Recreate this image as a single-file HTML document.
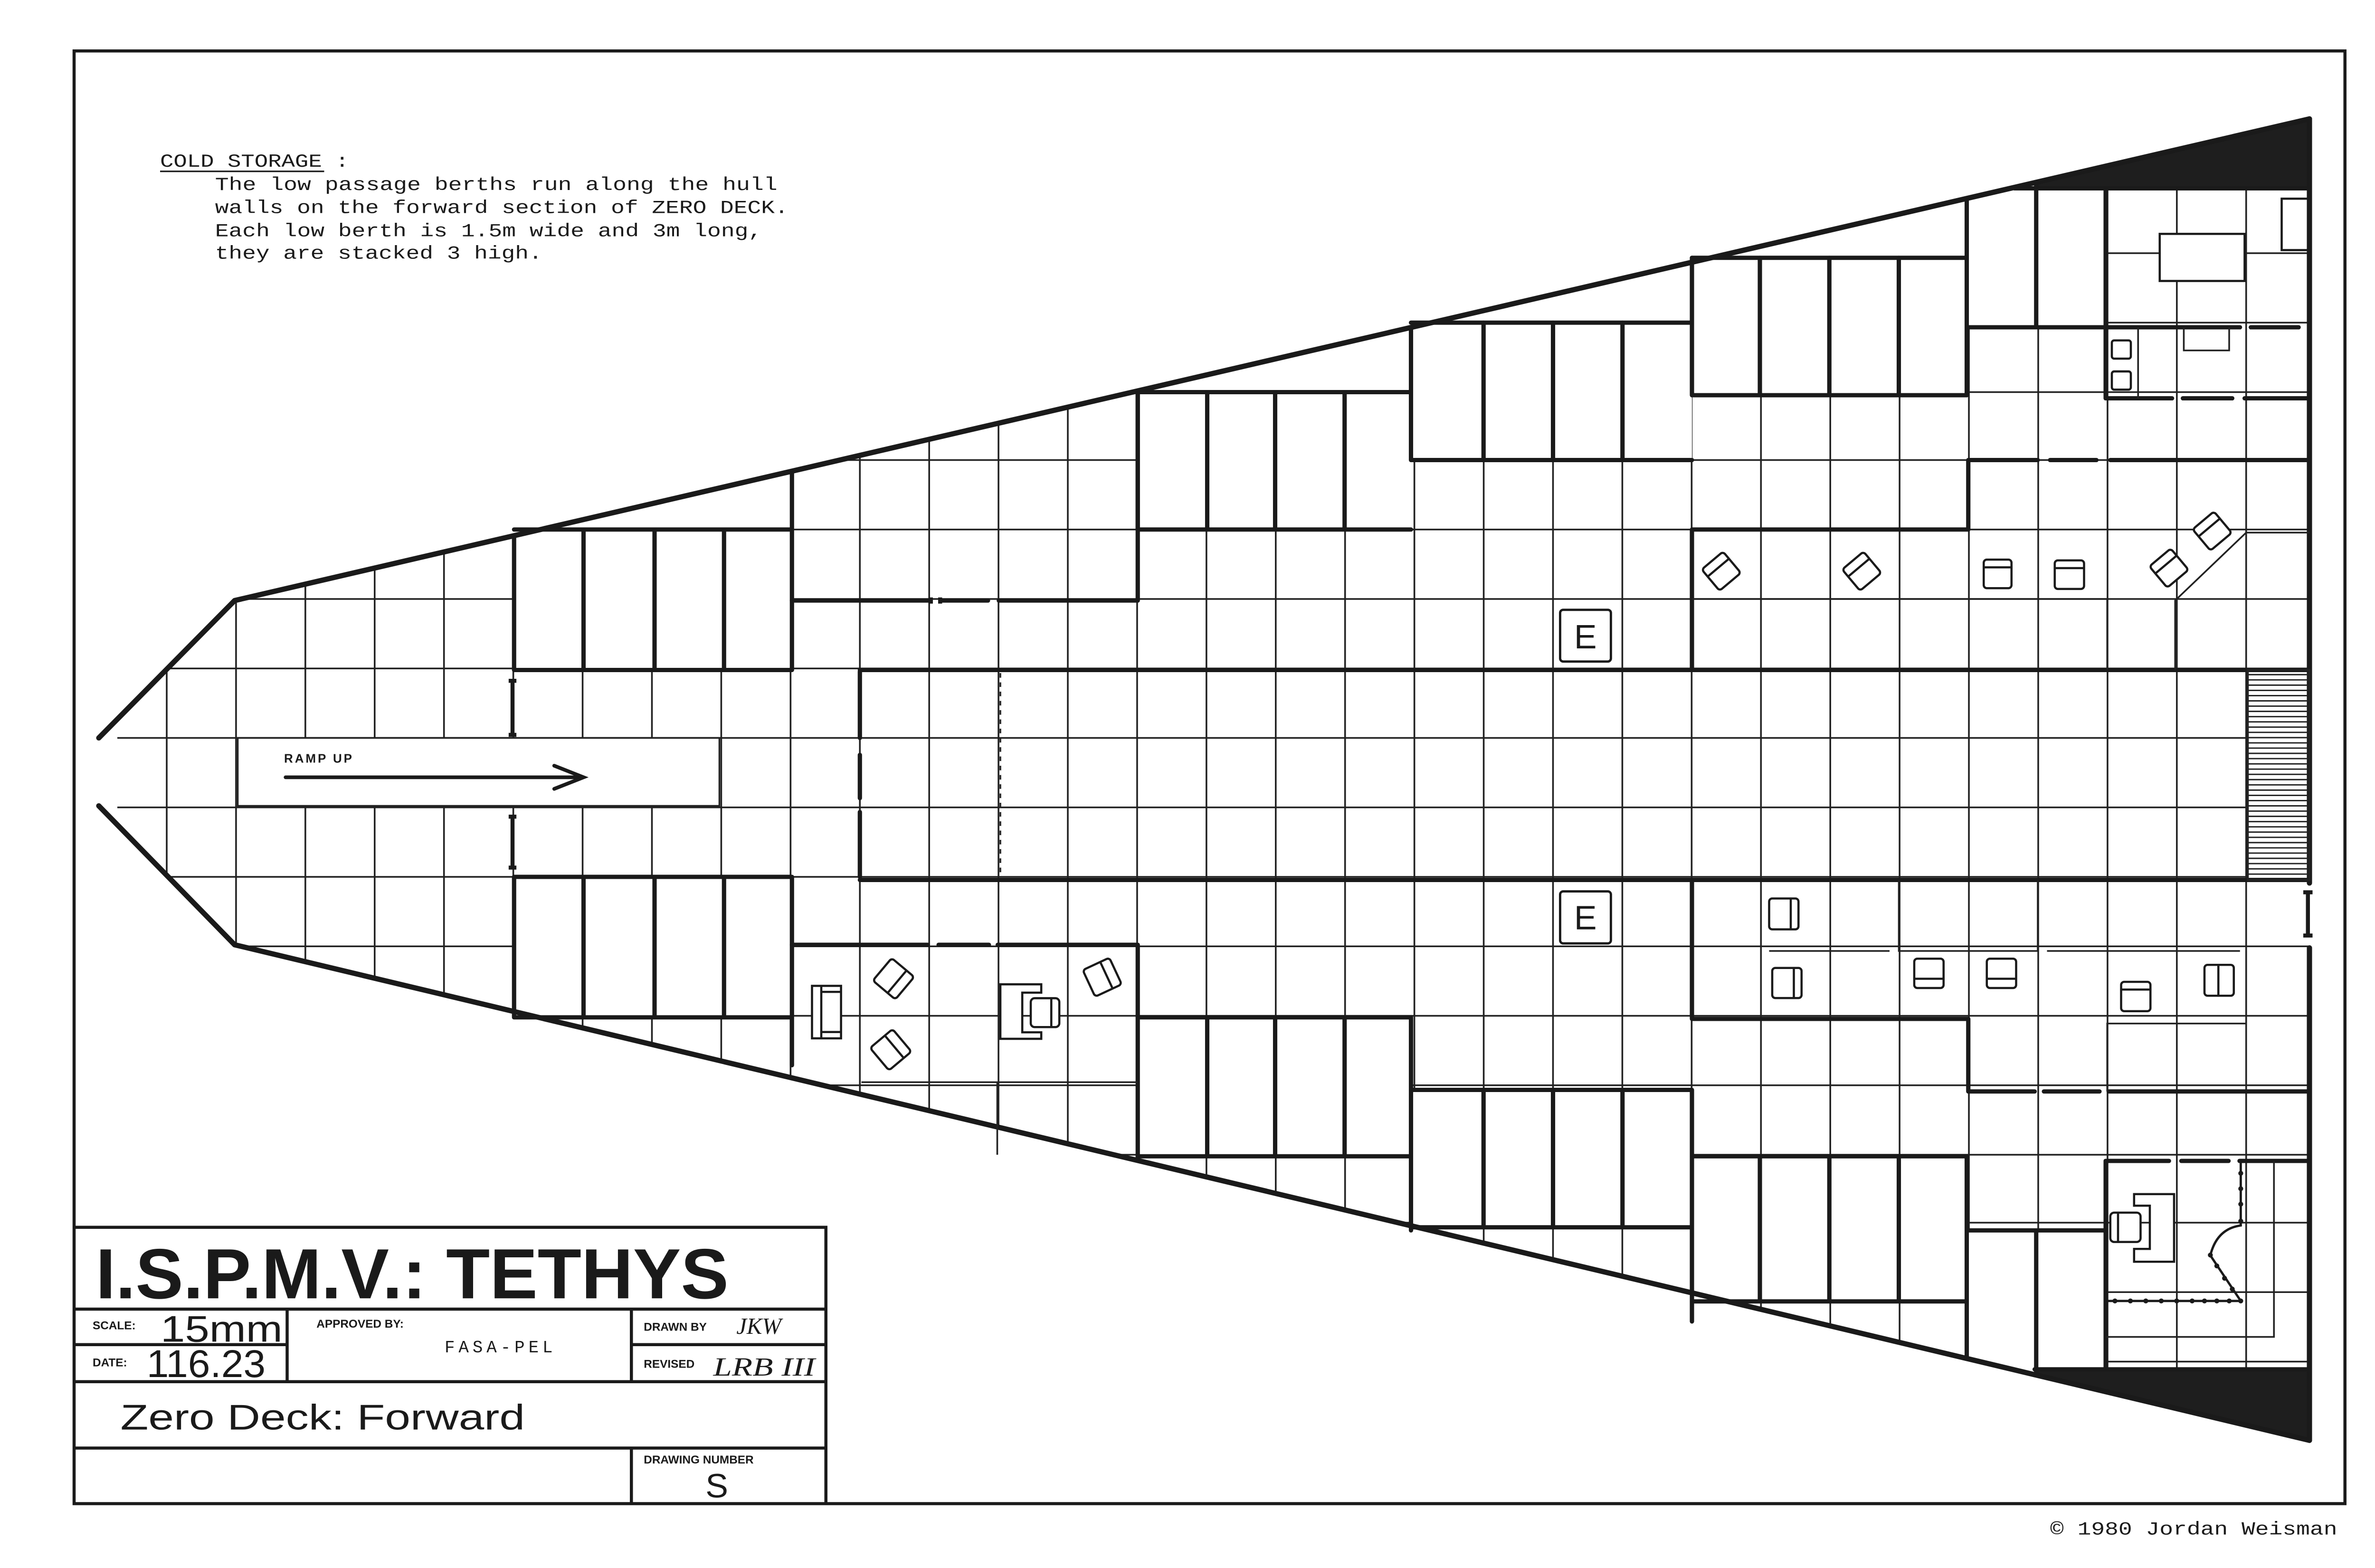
<!DOCTYPE html>
<html><head><meta charset="utf-8"><style>
html,body{margin:0;padding:0;background:#fff}
svg{display:block}
</style></head><body>
<svg xmlns="http://www.w3.org/2000/svg" width="5100" height="3301" viewBox="0 0 1569.23 1015.69">
<defs>
<clipPath id="hull"><polygon points="64,478 152,389 1496,77 1496,933 152,612 64,522"/></clipPath>
</defs>
<rect x="0" y="0" width="1569.23" height="1015.69" fill="#fff"/>
<rect x="48" y="33" width="1471" height="941" fill="none" stroke="#1a1a1a" stroke-width="2"/>

<g clip-path="url(#hull)" stroke="#222" stroke-width="1.1" fill="none">
<path d="M108 60V960M152.9 60V960M197.8 60V960M242.7 60V960M287.6 60V960M332.5 60V960M377.4 60V960M422.3 60V960M467.2 60V960M512.1 60V960M557 60V960M601.9 60V960M646.8 60V960M691.7 60V960M736.6 60V960M781.5 60V960M826.4 60V960M871.3 60V960M916.2 60V960M961.1 60V960M1006 60V960M1050.9 60V960M1095.8 60V960M1140.7 60V960M1185.6 60V960M1230.5 60V960M1275.4 60V960M1320.3 60V960M1365.2 60V960M1410.1 60V960M1455 60V960"/>
<path d="M76 119H1500M76 164H1500M76 209H1500M76 254H1500M76 298H1500M76 343H1500M76 388H1500M76 433H1500M76 478H1500M76 523H1500M76 568H1500M76 613H1500M76 658H1500M76 703H1500M76 748H1500M76 792H1500M76 837H1500M76 882H1500"/>
</g>
<g fill="#fff" stroke="none">
<polygon points="333,347 513,305 513,434 333,434"/>
<polygon points="737,253 914,212 914,343 737,343"/>
<polygon points="914,212 1096,170 1096,298 914,298"/>
<polygon points="1096,170 1274,129 1274,256 1096,256"/>
<polygon points="1274,129 1364,108 1364,212 1274,212"/>
<polygon points="1300,104 1496,77 1496,122 1300,122"/>
<rect x="333" y="568" width="180" height="91"/>
<rect x="737" y="659" width="177" height="90"/>
<rect x="914" y="706" width="182" height="89"/>
<rect x="1096" y="749" width="178" height="94"/>
<rect x="1274" y="797" width="90" height="110"/>
<rect x="1318" y="887" width="178" height="50"/>
<rect x="154" y="478" width="312" height="44"/>
<rect x="1456" y="434" width="40" height="136"/>
</g>
<polygon points="1318,117 1496,77 1496,122 1318,122" fill="#1e1e1e"/>
<polygon points="1318,887 1496,887 1496,933 1318,890.5" fill="#1e1e1e"/>

<g stroke="#1a1a1a" stroke-width="3.4" fill="none" stroke-linecap="round" stroke-linejoin="round">
<polyline points="64,478 152,389 1496,77"/>
<polyline points="64,522 152,612 1496,933"/>
<path d="M1496 77V572M1496 614V933"/>
</g>

<g stroke="#1a1a1a" stroke-width="2.8" fill="none" stroke-linecap="round" stroke-linejoin="round">
<path d="M333 347V434H513M333 343H513M378 343V434M424 343V434M469 343V434M513 306V434"/>
<path d="M737 253V343H914M737 254H914M782 254V343M826 254V343M871 254V343M914 212V298H1096"/>
<path d="M914 209H1096M1096 167H1274"/>
<path d="M961 209V298M1006 209V298M1051 209V298M1096 167V256H1274M1140 167V256M1185 167V256M1230 167V256M1274 129V256"/>
<path d="M1319 118V212M1305 122H1496M1274 212H1451M1458 212H1489M1364 122V258"/>
<path d="M1364 258H1407M1414 258H1446M1454 258H1496"/>
<path d="M513 389H602M610 389H640M647 389H737M737 253V389"/>
<path d="M1096 343H1275V298H1320M1328 298H1358M1367 298H1496M1096 343V434"/>
<path d="M557 434H1496M557 570H1496M557 435V478M557 489V517M557 526V568"/>
<path d="M333 568H513M333 568V659H513M378 568V659M424 568V659M469 568V659M513 568V690"/>
<path d="M513 612H601M608 612H640.6M646.3 612H737V750"/>
<path d="M737 659H914M737 749H914M782 659V749M826 659V749M871 659V749M914 659V797"/>
<path d="M914 706H1096M914 795H1096M961 706V795M1006 706V795M1051 706V795M1096 706V856"/>
<path d="M1096 749H1274M1096 843H1274M1140 749V843M1185 749V843M1230 749V843M1274 749V880"/>
<path d="M1274 797H1364M1319 797V889M1364 752V887M1318 887H1496"/>
<path d="M1364 752H1405M1413 752H1443.6M1450.7 752H1496"/>
<path d="M1096 570V660H1275V707H1318M1324 707H1360M1366 707H1496"/>
</g>
<g stroke="#1a1a1a" stroke-width="2.6" fill="none">
<path d="M332 441V476M329.5 441H334.5M329.5 476H334.5"/>
<path d="M332 529V562M329.5 529H334.5M329.5 562H334.5"/>
<path d="M1495 578V606M1492 578H1498M1492 606H1498"/>
<path d="M603 387V391M609 387V391"/>
</g>

<g stroke="#222" stroke-width="1.1" fill="none">
<path d="M1096 388H1365M1365 388V434M1409 434V389L1455 345H1496"/>
<path d="M648 436V568" stroke-dasharray="3,3"/>
<path d="M1230 570V616H1320V570M1146 616H1224M1326 616H1451M1455 616V663H1365V707"/>
<path d="M1473 752V866H1364"/>
<rect x="154" y="478" width="312" height="44"/>
<path d="M1385 212V258"/>
<path d="M1414.6 212V227H1444V212"/>
<path d="M558 701H737M646 701V748"/>
</g>
<g stroke="#222" stroke-width="0.9">
<rect x="1456" y="434" width="40" height="136" fill="none" stroke-width="1.4"/>
<path d="M1456 437H1496M1456 440.4H1496M1456 443.8H1496M1456 447.2H1496M1456 450.6H1496M1456 454H1496M1456 457.4H1496M1456 460.8H1496M1456 464.2H1496M1456 467.6H1496M1456 471H1496M1456 474.4H1496M1456 477.8H1496M1456 481.2H1496M1456 484.6H1496M1456 488H1496M1456 491.4H1496M1456 494.8H1496M1456 498.2H1496M1456 501.6H1496M1456 505H1496M1456 508.4H1496M1456 511.8H1496M1456 515.2H1496M1456 518.6H1496M1456 522H1496M1456 525.4H1496M1456 528.8H1496M1456 532.2H1496M1456 535.6H1496M1456 539H1496M1456 542.4H1496M1456 545.8H1496M1456 549.2H1496M1456 552.6H1496M1456 556H1496M1456 559.4H1496M1456 562.8H1496M1456 566.2H1496"/>
</g>

<g stroke="#1a1a1a" stroke-width="1.4" fill="#fff">
<rect x="1399" y="151.5" width="55" height="30.5"/>
<rect x="1478" y="128.7" width="17" height="33.3"/>
<rect x="1368" y="220.5" width="12.3" height="11.8" rx="1.5"/>
<rect x="1368" y="240.6" width="12.3" height="11.8" rx="1.5"/>
<g transform="translate(1115,370) rotate(-40)"><rect x="-9" y="-9" width="18" height="18" rx="2"/><path d="M-9 -3H9" fill="none"/></g>
<g transform="translate(1206,370) rotate(-40)"><rect x="-9" y="-9" width="18" height="18" rx="2"/><path d="M-9 -3H9" fill="none"/></g>
<g transform="translate(1405,368) rotate(-40)"><rect x="-9" y="-9" width="18" height="18" rx="2"/><path d="M-9 -3H9" fill="none"/></g>
<g transform="translate(1433,344) rotate(-40)"><rect x="-9" y="-9" width="18" height="18" rx="2"/><path d="M-9 -3H9" fill="none"/></g>
<rect x="1285" y="362.5" width="18" height="18.5" rx="2"/><path d="M1285 367.5H1303" fill="none"/>
<rect x="1331" y="363" width="19" height="18.5" rx="2"/><path d="M1331 368H1350" fill="none"/>
<rect x="1146" y="582" width="19" height="20" rx="2"/><path d="M1160 582V602" fill="none"/>
<rect x="1148" y="627" width="19" height="19.5" rx="2"/><path d="M1162 627V646.5" fill="none"/>
<rect x="1240" y="621" width="19" height="19" rx="2"/><path d="M1240 634H1259" fill="none"/>
<rect x="1287" y="621" width="19" height="19" rx="2"/><path d="M1287 634H1306" fill="none"/>
<rect x="1374" y="636" width="19" height="19" rx="2"/><path d="M1374 641H1393" fill="none"/>
<rect x="1428" y="625" width="19" height="20" rx="2"/><path d="M1437 625V645" fill="none"/>
<path d="M1382.4 773.5H1408.3V817.3H1382.4V809H1392.6V781H1382.4Z"/>
<rect x="1367" y="785.5" width="19.6" height="19" rx="2.5"/><path d="M1372 785.5V804.5" fill="none"/>
<rect x="526" y="638.6" width="18.8" height="34" fill="#fff"/><path d="M532 638.6V672.6M532 642.5H544.8M532 668.5H544.8" fill="none"/>
<g transform="translate(578.8,634) rotate(40)"><rect x="-9.5" y="-9.5" width="19" height="19" rx="2"/><path d="M3 -9.5V9.5" fill="none"/></g>
<g transform="translate(577,680) rotate(-40)"><rect x="-9.5" y="-9.5" width="19" height="19" rx="2"/><path d="M3 -9.5V9.5" fill="none"/></g>
<g transform="translate(714,633) rotate(-25)"><rect x="-9.5" y="-9.5" width="19" height="19" rx="2"/><path d="M3 -9.5V9.5" fill="none"/></g>
<path d="M648 637.6H674.5V643H662.2V668.7H674.5V672.9H648Z"/>
<rect x="667.7" y="646.6" width="18.5" height="18.7" rx="2.5"/><path d="M681 646.6V665.3" fill="none"/>
</g>
<g stroke="#1a1a1a" stroke-width="1.5" fill="none">
<path d="M1451.5 753V793.8Q1436 796 1431.8 813.2L1451.5 842.7H1364"/>
</g>
<g fill="#1a1a1a">
<circle cx="1451.5" cy="760" r="1.6"/><circle cx="1451.5" cy="770" r="1.6"/><circle cx="1451.5" cy="780" r="1.6"/><circle cx="1451.5" cy="791" r="1.6"/>
<circle cx="1431.8" cy="813" r="1.6"/><circle cx="1436" cy="820" r="1.6"/><circle cx="1441" cy="828" r="1.6"/><circle cx="1446" cy="835" r="1.6"/><circle cx="1451.5" cy="842.7" r="1.6"/>
<circle cx="1370" cy="842.7" r="1.6"/><circle cx="1380" cy="842.7" r="1.6"/><circle cx="1390" cy="842.7" r="1.6"/><circle cx="1400" cy="842.7" r="1.6"/><circle cx="1410" cy="842.7" r="1.6"/><circle cx="1420" cy="842.7" r="1.6"/><circle cx="1428" cy="842.7" r="1.6"/><circle cx="1436" cy="842.7" r="1.6"/><circle cx="1444" cy="842.7" r="1.6"/>
</g>

<g stroke="#1a1a1a" stroke-width="1.5" fill="#fff">
<rect x="1010.6" y="395" width="32.9" height="33.5" rx="2"/>
<rect x="1010.6" y="577.4" width="32.9" height="33.7" rx="2"/>
</g>
<g font-family="'Liberation Sans',sans-serif" font-size="22" fill="#1a1a1a" text-anchor="middle">
<text x="1027" y="420">E</text>
<text x="1027" y="602">E</text>
</g>

<text x="184" y="494" font-family="'Liberation Sans',sans-serif" font-weight="bold" font-size="8" fill="#1a1a1a" textLength="44">RAMP UP</text>
<g stroke="#1a1a1a" stroke-width="2.4" fill="none" stroke-linecap="round">
<path d="M185 503.5H378M359 496L378 503.5L359 511"/>
</g>

<g font-family="'Liberation Mono',monospace" font-size="12" fill="#1a1a1a">
<text x="103.7" y="108" textLength="122.3" lengthAdjust="spacingAndGlyphs">COLD STORAGE :</text>
<text x="139.3" y="123" textLength="364.3" lengthAdjust="spacingAndGlyphs">The low passage berths run along the hull</text>
<text x="139.3" y="138" textLength="371.4" lengthAdjust="spacingAndGlyphs">walls on the forward section of ZERO DECK.</text>
<text x="139.3" y="153" textLength="354.3" lengthAdjust="spacingAndGlyphs">Each low berth is 1.5m wide and 3m long,</text>
<text x="139.3" y="167.5" textLength="212" lengthAdjust="spacingAndGlyphs">they are stacked 3 high.</text>
</g>
<line x1="103.7" y1="111" x2="210" y2="111" stroke="#1a1a1a" stroke-width="1"/>

<g stroke="#1a1a1a" stroke-width="2" fill="none">
<path d="M48 795H535V974M48 848H535M48 895H535M48 938H535M186 848V895M48 871H186M409 848V895M409 871H535M409 938V974"/>
</g>
<g font-family="'Liberation Sans',sans-serif" fill="#1a1a1a">
<text x="62" y="841" font-size="46" font-weight="bold" textLength="410" lengthAdjust="spacingAndGlyphs">I.S.P.M.V.: TETHYS</text>
<text x="60" y="861" font-size="7.5" font-weight="bold">SCALE:</text>
<text x="104" y="869" font-size="24" textLength="79" lengthAdjust="spacingAndGlyphs">15mm</text>
<text x="60" y="885" font-size="7.5" font-weight="bold">DATE:</text>
<text x="95" y="892" font-size="25" textLength="77" lengthAdjust="spacingAndGlyphs">116.23</text>
<text x="205" y="860" font-size="7.5" font-weight="bold">APPROVED BY:</text>
<text x="417" y="862" font-size="7.5" font-weight="bold">DRAWN BY</text>
<text x="417" y="886" font-size="7.5" font-weight="bold">REVISED</text>
<text x="78" y="926" font-size="23" textLength="262" lengthAdjust="spacingAndGlyphs">Zero Deck: Forward</text>
<text x="417" y="948" font-size="7.5" font-weight="bold">DRAWING NUMBER</text>
<text x="457" y="970" font-size="22">S</text>
</g>
<text x="288" y="876" font-family="'Liberation Mono',monospace" font-size="11" fill="#1a1a1a" textLength="70">FASA-PEL</text>
<text x="477" y="864" font-family="'Liberation Serif',serif" font-style="italic" font-size="15" fill="#1a1a1a">JKW</text>
<text x="462" y="891" font-family="'Liberation Serif',serif" font-style="italic" font-size="17" fill="#1a1a1a" textLength="66" lengthAdjust="spacingAndGlyphs">LRB III</text>

<text x="1328" y="994" font-family="'Liberation Mono',monospace" font-size="12" fill="#1a1a1a" textLength="186" lengthAdjust="spacingAndGlyphs">© 1980 Jordan Weisman</text>
</svg>
</body></html>
